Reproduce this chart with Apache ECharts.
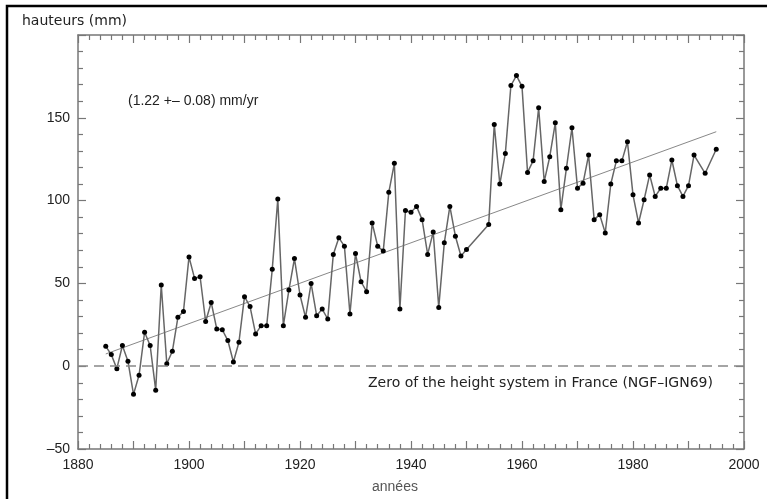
<!DOCTYPE html>
<html><head><meta charset="utf-8">
<script src="https://cdn.jsdelivr.net/npm/echarts@6/dist/echarts.min.js"></script>
<style>html,body{margin:0;padding:0;background:#fff}#c{width:767px;height:499px}</style>
</head><body><div id="c"></div>
<script>
const years = [1885,1886,1887,1888,1889,1890,1891,1892,1893,1894,1895,1896,1897,1898,1899,
1900,1901,1902,1903,1904,1905,1906,1907,1908,1909,1910,1911,1912,1913,1914,1915,1916,1917,1918,1919,
1920,1921,1922,1923,1924,1925,1926,1927,1928,1929,1930,1931,1932,1933,1934,1935,1936,1937,1938,1939,
1940,1941,1942,1943,1944,1945,1946,1947,1948,1949,1950,1954,1955,1956,1957,1958,1959,
1960,1961,1962,1963,1964,1965,1966,1967,1968,1969,1970,1971,1972,1973,1974,1975,1976,1977,1978,1979,
1980,1981,1982,1983,1984,1985,1986,1987,1988,1989,1990,1991,1993,1995];
const heights = [12,7,-1.5,12.5,3,-17,-5.5,20.5,12.5,-14.5,49,1.5,9,29.5,33,
66,53,54,27,38.5,22.5,22,15.5,2.5,14.5,42,36,19.5,24.5,24.5,58.5,101,24.5,46,65,
43,29.5,50,30.5,34.5,28.5,67.5,77.5,72.5,31.5,68,51,45,86.5,72.5,69.5,105,122.5,34.5,94,
93,96.5,88.5,67.5,81,35.5,74.5,96.5,78.5,66.5,70.5,85.5,146,110,128.5,169.5,175.5,
169,117,124,156,111.5,126.5,147,94.5,119.5,144,107.5,110.5,127.5,88.5,91.5,80.5,110,124,124,135.5,
103.5,86.5,100.5,115.5,102.5,107.5,107.5,124.5,109,102.5,109,127.5,116.5,131];
const trendYears = [1885, 1995];
const trendValues = [7.4, 141.6];
const xTickLabels = [1880,1900,1920,1940,1960,1980,2000];
const yTickLabels = [-50,0,50,100,150];

const FONT = 'Liberation Sans';
const axisGray = '#777';
function mkX(pos, showLabels){
  return {type:'value', position:pos, min:1880, max:2000, interval:10,
    axisLine:{show:true, onZero:false, lineStyle:{color:axisGray, width:1.5}},
    axisTick:{show:true, inside:true, length:8, lineStyle:{color:axisGray, width:1.2}},
    minorTick:{show:true, splitNumber:5, length:5, lineStyle:{color:axisGray, width:1.2}},
    splitLine:{show:false},
    axisLabel:{show:showLabels, margin:9, color:'#222', fontFamily:FONT, fontSize:14,
      formatter:v=> xTickLabels.indexOf(v)>=0 ? String(v) : ''}};
}
function mkY(pos, showLabels){
  return {type:'value', position:pos, min:-50, max:200, interval:50,
    axisLine:{show:true, onZero:false, lineStyle:{color:axisGray, width:1.5}},
    axisTick:{show:true, inside:true, length:8, lineStyle:{color:axisGray, width:1.2}},
    minorTick:{show:true, splitNumber:5, length:5, lineStyle:{color:axisGray, width:1.2}},
    splitLine:{show:false},
    axisLabel:{show:showLabels, margin:8, color:'#222', fontFamily:FONT, fontSize:14,
      formatter:v=> yTickLabels.indexOf(v)>=0 ? String(v).replace('-','\u2013') : ''}};
}
const chart = echarts.init(document.getElementById('c'), null, {renderer:'canvas'});
chart.setOption({
  animation:false,
  backgroundColor:'#fff',
  grid:{left:78, right:23, top:35, bottom:50, containLabel:false},
  xAxis:[mkX('bottom', true), mkX('top', false)],
  yAxis:[mkY('left', true), mkY('right', false)],
  series:[
    {type:'line', data:years.map((y,i)=>[y,heights[i]]), symbol:'circle', symbolSize:5,
     itemStyle:{color:'#000'}, lineStyle:{color:'#666', width:1.5}, z:3,
     markLine:{silent:true, symbol:'none', label:{show:false},
       lineStyle:{color:'#888', type:[10,6], width:1.5}, data:[{yAxis:0}]}},
    {type:'line', data:trendYears.map((y,i)=>[y,trendValues[i]]), symbol:'none',
     lineStyle:{color:'#888', width:1}, z:2}
  ],
  graphic:[
    {type:'rect', shape:{x:7, y:6, width:800, height:600}, style:{fill:'none', stroke:'#000', lineWidth:2.5}},
    {type:'text', left:22, top:14, style:{text:'hauteurs (mm)', font:'14px "DejaVu Sans"', fill:'#222'}},
    {type:'text', left:128, top:94, style:{text:'(1.22 +\u2013 0.08) mm/yr', font:'14px "Liberation Sans"', fill:'#222'}},
    {type:'text', left:368, top:376, style:{text:'Zero of the height system in France (NGF\u2013IGN69)', font:'14px "DejaVu Sans"', fill:'#222'}},
    {type:'text', left:372, top:480, style:{text:'années', font:'14px "Liberation Sans"', fill:'#555'}}
  ]
});
</script></body></html>
